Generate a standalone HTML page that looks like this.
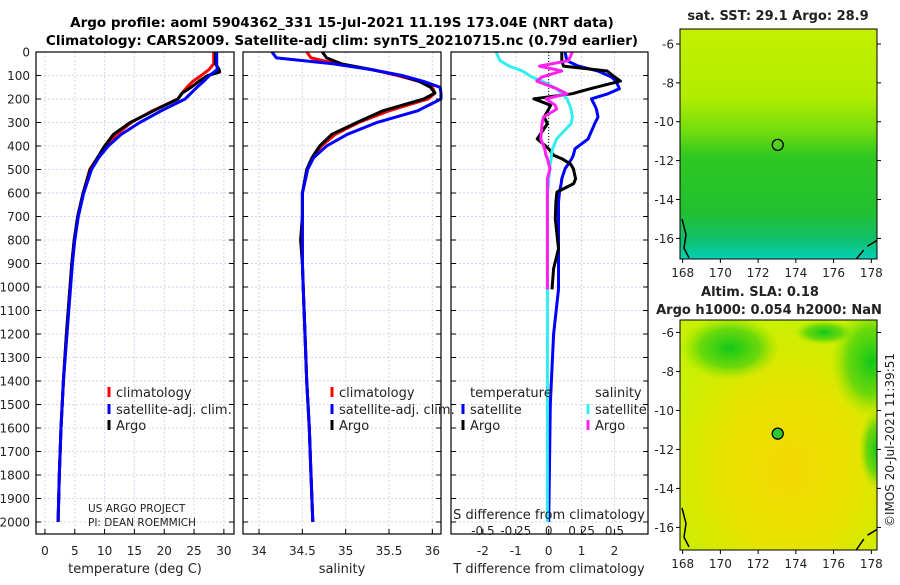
<!DOCTYPE html>
<html><head><meta charset="utf-8"><style>
body{margin:0;background:#fff;}
svg text{font-family:"DejaVu Sans","Liberation Sans",sans-serif;fill:#222;}
</style></head><body>
<svg id="c" width="900" height="580" viewBox="0 0 900 580">
<defs>
<linearGradient id="sst" x1="0" y1="0" x2="0" y2="1">
<stop offset="0" stop-color="#c4f000"/><stop offset="0.3" stop-color="#b0ec00"/>
<stop offset="0.45" stop-color="#70dc10"/><stop offset="0.55" stop-color="#30c820"/>
<stop offset="0.8" stop-color="#20c030"/><stop offset="0.92" stop-color="#10c070"/>
<stop offset="1" stop-color="#00d0b8"/></linearGradient>
<radialGradient id="sla" cx="0.55" cy="0.65" r="0.65"><stop offset="0" stop-color="#f4d800"/><stop offset="0.5" stop-color="#e8e200"/><stop offset="1" stop-color="#c8f000"/></radialGradient>
<radialGradient id="g1" cx="0.5" cy="0.5" r="0.5"><stop offset="0" stop-color="#10c818"/><stop offset="0.6" stop-color="#40d010" stop-opacity="0.7"/><stop offset="1" stop-color="#80e000" stop-opacity="0"/></radialGradient>
</defs>
<g id="title">
<text x="342" y="27" text-anchor="middle" font-weight="bold" font-size="13.5" style="fill:#000">Argo profile: aoml 5904362_331 15-Jul-2021 11.19S 173.04E (NRT data)</text>
<text x="342" y="45" text-anchor="middle" font-weight="bold" font-size="13.5" style="fill:#000">Climatology: CARS2009. Satellite-adj clim: synTS_20210715.nc (0.79d earlier)</text>
</g>
<g id="plots"></g>
</svg>
<script>
const depths=[0,25,50,75,100,125,150,175,200,250,300,350,400,450,500,600,700,800,900,1000,1200,1400,1600,1800,2000];
const tClim=[28.3,28.3,28.3,27.5,26.2,24.8,23.8,23,22.3,18,14.5,12,10.3,8.8,7.5,6.4,5.5,4.9,4.5,4.2,3.6,3.1,2.7,2.4,2.2];
const tSat=[28.8,28.8,28.8,28.9,27.6,26.6,25.5,24.5,23.5,19.5,15.9,12.8,10.6,9,7.8,6.5,5.6,5.0,4.6,4.3,3.7,3.1,2.7,2.4,2.2];
const tArgoDepth=[0,25,50,75,85,100,125,150,175,200,250,300,350,400,450,500,600,700,800,900,1000,1200,1400,1600,1800,2000];
const tArgo=[28.6,28.6,28.6,29.2,29.3,27.3,25.8,24.5,23,22.3,18.2,14.3,11.5,10,8.8,7.6,6.4,5.5,4.9,4.5,4.2,3.6,3.1,2.7,2.4,2.2];
const sClim=[34.55,34.6,34.9,35.3,35.6,35.85,36.0,36.03,35.95,35.5,35.15,34.88,34.72,34.62,34.56,34.5,34.5,34.5,34.5,34.51,34.53,34.55,34.58,34.6,34.62];
const sSat=[34.15,34.2,34.85,35.3,35.65,35.9,36.09,36.1,36.1,35.83,35.36,35.02,34.78,34.63,34.56,34.5,34.5,34.5,34.5,34.51,34.53,34.55,34.58,34.6,34.62];
const sArgo=[34.73,34.78,34.95,35.3,35.63,35.85,35.98,36.03,35.9,35.43,35.13,34.84,34.7,34.61,34.55,34.5,34.5,34.48,34.5,34.51,34.53,34.55,34.58,34.6,34.62];
const dDepth=[0,37,60,81,106,124,156,178,199,227,243,277,305,370,412,440,454,476,496,539,560,596,638,710,837,922,1010,1200,1500,2000];
const dTArgo=[0.4,0.4,0.45,1.78,2.0,2.18,1.27,0.7,-0.45,0.06,0.0,-0.14,-0.04,-0.35,0.0,0.16,0.4,0.66,0.75,0.82,0.76,0.25,0.22,0.2,0.3,0.15,0.1,null,null,null];
const dTSat=[0.5,0.55,0.9,1.5,1.9,2.05,2.15,1.8,1.3,1.4,1.45,1.5,1.4,1.2,0.8,0.75,0.7,0.6,0.5,0.4,0.38,0.33,0.3,0.3,0.3,0.3,0.3,0.15,0.05,0.0];
const dSSat=[-0.4,-0.37,-0.3,-0.2,-0.13,-0.05,0.06,0.1,0.14,0.16,0.17,0.18,0.17,0.06,0.03,0.02,0.02,0.01,0.01,0.0,0.0,-0.01,-0.01,-0.01,-0.01,-0.01,-0.01,-0.01,-0.01,-0.01];
const dSArgo=[0.18,0.15,-0.07,0.1,-0.05,-0.09,0.06,0.14,-0.02,0.05,0.06,-0.04,-0.05,-0.06,-0.03,-0.02,-0.01,0.0,0.01,-0.01,-0.01,-0.01,-0.01,-0.01,-0.01,-0.01,-0.01,null,null,null];
const depthTicks=[0,100,200,300,400,500,600,700,800,900,1000,1100,1200,1300,1400,1500,1600,1700,1800,1900,2000];
const tTicks=[0,5,10,15,20,25,30];
const sTicks=[34,34.5,35,35.5,36];
const sTickLabels=['34','34.5','35','35.5','36'];
const dtTicks=[-2,-1,0,1,2];
const dsTicks=[-0.5,-0.25,0,0.25,0.5];
const lonTicks=[168,170,172,174,176,178];
const latTicks=[-6,-8,-10,-12,-14,-16];
const argoLon=173.04, argoLat=-11.19;

const NS='http://www.w3.org/2000/svg';
const root=document.getElementById('plots');
function mk(tag,attrs,parent){const e=document.createElementNS(NS,tag);for(const k in attrs)e.setAttribute(k,attrs[k]);(parent||root).appendChild(e);return e;}
const TOP=52, BOT=534;
const yD=d=>TOP+d*0.235;

function panel(name,x0,x1,dmin,dmax){
  const xs=v=>x0+(v-dmin)/(dmax-dmin)*(x1-x0);
  const g=mk('g',{});
  
  
  return {g,xs};
}
function grid(p,x0,x1,xt){
  depthTicks.forEach(d=>{const l=mk('line',{x1:x0,x2:x1,y1:yD(d),y2:yD(d),stroke:'#d4d4ee','stroke-dasharray':'2,2','stroke-width':1},p.g);});
  xt.forEach(v=>{const l=mk('line',{x1:p.xs(v),x2:p.xs(v),y1:TOP,y2:BOT,stroke:'#d4d4ee','stroke-dasharray':'2,2','stroke-width':1},p.g);});
}
function frame(p,x0,x1,xt,labels){
  const r=mk('rect',{x:x0,y:TOP,width:x1-x0,height:BOT-TOP,fill:'none',stroke:'#000','stroke-width':1.2},p.g);
  
  depthTicks.forEach(d=>{mk('line',{x1:x0,x2:x0+5,y1:yD(d),y2:yD(d),stroke:'#000'},p.g);mk('line',{x1:x1,x2:x1-5,y1:yD(d),y2:yD(d),stroke:'#000'},p.g);});
  xt.forEach((v,i)=>{mk('line',{x1:p.xs(v),x2:p.xs(v),y1:BOT,y2:BOT-5,stroke:'#000'},p.g);
    const t=mk('text',{x:p.xs(v),y:555,'text-anchor':'middle','font-size':12},p.g);t.textContent=labels?labels[i]:String(v);
    });
}
function line(p,xsArr,ds,color,w){
  let d='',pen=false;
  xsArr.forEach((v,i)=>{if(v===null||v===undefined){pen=false;return;}d+=(pen?'L':'M')+p.xs(v).toFixed(1)+','+yD(ds[i]).toFixed(1);pen=true;});
  const e=mk('path',{d,fill:'none',stroke:color,'stroke-width':w||3,'stroke-linejoin':'round'},p.g);
  return e;
}
function txt(g,x,y,s,size,anchor,extra){const t=mk('text',Object.assign({x,y,'font-size':size||12,'text-anchor':anchor||'start'},extra||{}),g);t.textContent=s;return t;}
function legMark(g,x,y,c){mk('line',{x1:x,x2:x,y1:y-10,y2:y,stroke:c,'stroke-width':3},g);}

// Panel 1 temperature
const p1=panel('temperature-panel',36,234,-1.5,31.7);
grid(p1,36,234,tTicks);
let e;
e=line(p1,tClim,depths,'#ff0000');
e=line(p1,tArgo,tArgoDepth,'#000');
e=line(p1,tSat,depths,'#0000ff');
frame(p1,36,234,tTicks);
depthTicks.forEach(d=>{const t=txt(p1.g,30,yD(d)+4.5,String(d),12,'end');});
e=txt(p1.g,135,573,'temperature (deg C)',13,'middle');
legMark(p1.g,109,397,'#ff0000');txt(p1.g,116,397,'climatology',13);
legMark(p1.g,109,414,'#0000ff');txt(p1.g,116,414,'satellite-adj. clim.',13);
legMark(p1.g,109,430,'#000');txt(p1.g,116,430,'Argo',13);
txt(p1.g,88,512,'US ARGO PROJECT',10.5);txt(p1.g,88,526,'PI: DEAN ROEMMICH',10.5);

// Panel 2 salinity
const p2=panel('salinity-panel',243,441,33.815,36.1);
grid(p2,243,441,sTicks);
e=line(p2,sClim,depths,'#ff0000');
e=line(p2,sArgo,depths,'#000');
e=line(p2,sSat,depths,'#0000ff');
frame(p2,243,441,sTicks,sTickLabels);
e=txt(p2.g,342,573,'salinity',13,'middle');
legMark(p2.g,332,397,'#ff0000');txt(p2.g,339,397,'climatology',13);
legMark(p2.g,332,414,'#0000ff');txt(p2.g,339,414,'satellite-adj. clim.',13);
legMark(p2.g,332,430,'#000');txt(p2.g,339,430,'Argo',13);

// Panel 3 differences
const p3=panel('difference-panel',451,648,-2.97,3.02);
const p3s={g:p3.g,xs:v=>p3.xs(v*4)};
grid(p3,451,648,dtTicks);
mk('line',{x1:p3.xs(0),x2:p3.xs(0),y1:TOP,y2:yD(420),stroke:'#000','stroke-dasharray':'1,2'},p3.g);
e=line(p3,dTSat,dDepth,'#0000ff');
e=line(p3,dTArgo,dDepth,'#000');
e=line(p3s,dSSat,dDepth,'#33eeee');
e=line(p3s,dSArgo,dDepth,'#ff22ee');
frame(p3,451,648,dtTicks);
e=txt(p3.g,549,573,'T difference from climatology',13,'middle');
e=txt(p3.g,549,519,'S difference from climatology',13,'middle');
dsTicks.forEach(v=>{const t=txt(p3.g,p3s.xs(v),535,String(v),12,'middle');});
txt(p3.g,470,397,'temperature',13);txt(p3.g,595,397,'salinity',13);
legMark(p3.g,463,414,'#0000ff');txt(p3.g,470,414,'satellite',13);
legMark(p3.g,463,430,'#000');txt(p3.g,470,430,'Argo',13);
legMark(p3.g,588,414,'#33eeee');txt(p3.g,595,414,'satellite',13);
legMark(p3.g,588,430,'#ff22ee');txt(p3.g,595,430,'Argo',13);

// Maps
function map(name,y0,y1,latTop,latBot,fill,filled){
  const g=mk('g',{});
  
  
  const x0=680,x1=877;
  const xl=lon=>x0+(lon-167.86)/(178.3-167.86)*(x1-x0);
  const yl=lat=>y0+(lat-latTop)/(latBot-latTop)*(y1-y0);
  mk('rect',{x:x0,y:y0,width:x1-x0,height:y1-y0,fill:fill},g);
  if(filled){
    const cl=mk('clipPath',{id:'mclip'},g);
    mk('rect',{x:x0,y:y0,width:x1-x0,height:y1-y0},cl);
    const bg=mk('g',{'clip-path':'url(#mclip)'},g);
    mk('ellipse',{cx:xl(170.5),cy:yl(-6.8),rx:50,ry:32,fill:'url(#g1)'},bg);
    mk('ellipse',{cx:xl(178),cy:yl(-7.5),rx:40,ry:55,fill:'url(#g1)'},bg);
    mk('ellipse',{cx:xl(178.3),cy:yl(-12),rx:18,ry:40,fill:'url(#g1)'},bg);
    mk('ellipse',{cx:xl(175.5),cy:yl(-6),rx:30,ry:12,fill:'url(#g1)'},bg);
  }
  mk('path',{d:`M${x0+2},${yl(-15)} L${x0+6},${yl(-15.8)} L${x0+4},${yl(-16.5)} L${x0+9},${yl(-17)}`,fill:'none',stroke:'#000','stroke-width':1.5},g);
  mk('path',{d:`M${xl(177.2)},${y1} L${xl(177.6)},${yl(-16.6)} M${xl(177.8)},${yl(-16.4)} L${xl(178.3)},${yl(-16.1)}`,fill:'none',stroke:'#000','stroke-width':1.5},g);
  const c=mk('circle',{cx:xl(argoLon),cy:yl(argoLat),r:5.5,fill:filled?'#30c830':'none',stroke:'#000','stroke-width':1.3},g);
  
  mk('rect',{x:x0,y:y0,width:x1-x0,height:y1-y0,fill:'none',stroke:'#000'},g);
  lonTicks.forEach(v=>{mk('line',{x1:xl(v),x2:xl(v),y1:y1,y2:y1+4,stroke:'#000'},g);const t=txt(g,xl(v),y1+18,String(v),12,'middle');});
  latTicks.forEach(v=>{mk('line',{x1:x0,x2:x0-4,y1:yl(v),y2:yl(v),stroke:'#000'},g);mk('line',{x1:x1,x2:x1+4,y1:yl(v),y2:yl(v),stroke:'#000'},g);const t=txt(g,x0-6,yl(v)+4.5,String(v),12,'end');});
  return g;
}
const m1=map('sst-map',29,259,-5.23,-17.06,'url(#sst)',false);
e=txt(m1,778,20,'sat. SST: 29.1 Argo: 28.9',13,'middle',{'font-weight':'bold'});
const m2=map('sla-map',320,550,-5.36,-17.16,'url(#sla)',true);
e=txt(m2,760,296,'Altim. SLA: 0.18',13,'middle',{'font-weight':'bold'});
e=txt(m2,769,314,'Argo h1000: 0.054 h2000: NaN',13,'middle',{'font-weight':'bold'});
e=txt(root,894,440,'©IMOS 20-Jul-2021 11:39:51',12,'middle',{transform:'rotate(-90 894 440)'});
</script>
</body></html>
